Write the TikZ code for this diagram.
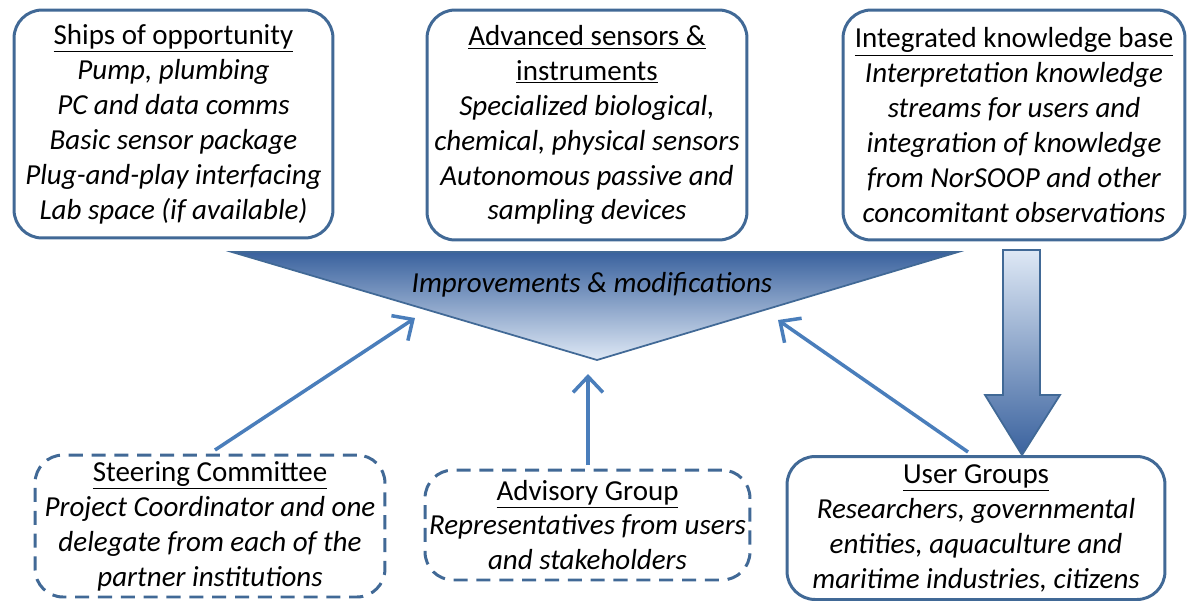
\documentclass[tikz,border=0pt]{standalone}
\usepackage{fontspec}
\setmainfont{Carlito}
\usetikzlibrary{arrows.meta,backgrounds}
\definecolor{boxline}{RGB}{65,105,150}
\definecolor{barfill}{RGB}{79,129,189}
\definecolor{arrowblue}{RGB}{74,126,187}
\definecolor{darkshade}{RGB}{58,98,158}
\definecolor{lightshade}{RGB}{222,232,245}
\tikzset{
  txt/.style={align=center,font=\fontsize{16.5}{19.9}\selectfont\itshape,inner sep=0pt},
  solidbox/.style={draw=boxline,line width=1.7pt,rounded corners=16pt,fill=white,txt},
  dashbox/.style={draw=boxline,line width=1.7pt,rounded corners=16pt,fill=white,dash pattern=on 8pt off 5pt,txt},
  bar/.style={draw=none,line width=22pt,barfill},
  upline/.style={arrowblue,line width=2pt,-{Straight Barb[length=9pt,width=17pt,line width=2pt]}},
  shadeshape/.style={draw=boxline,line width=1pt}
}
\newcommand{\ttl}[1]{\upshape\underline{#1}}
\begin{document}
\begin{tikzpicture}[x=0.02cm,y=-0.02cm]
\useasboundingbox (0,0) rectangle (1189,603);
% top boxes
\node[solidbox,minimum width=6.38cm,minimum height=4.56cm] (ships) at (173.5,124)
 {\ttl{Ships of opportunity}\\Pump, plumbing\\PC and data comms\\Basic sensor package\\Plug-and-play interfacing\\Lab space (if available)};
\node[solidbox,minimum width=6.4cm,minimum height=4.6cm] (adv) at (587,125)
 {\ttl{Advanced sensors \&}\\\ttl{instruments}\\Specialized biological,\\chemical, physical sensors\\Autonomous passive and\\sampling devices};
\node[solidbox,minimum width=6.84cm,minimum height=4.6cm] (ikb) at (1014,125)
 {\ttl{Integrated knowledge base}\\Interpretation knowledge\\streams for users and\\integration of knowledge\\from NorSOOP and other\\concomitant observations};
\begin{scope}[on background layer]
\draw[bar] (ships.east) -- (adv.west);
\draw[bar] (adv.east) -- (ikb.west);
\end{scope}
% triangle
\coordinate (tl) at (232,252);
\coordinate (tr) at (958,252);
\coordinate (apex) at (597,360);
\path[shadeshape,top color=darkshade,bottom color=lightshade] (tl) -- (tr) -- (apex) -- cycle;
\node[txt] (imp) at (592,285) {Improvements \& modifications};
% down arrow
\path[shadeshape,top color=lightshade,bottom color=darkshade]
 (1003,250) -- (1040,250) -- (1040,395) -- (1060,395) -- (1022,455) -- (985,395) -- (1003,395) -- cycle;
% bottom boxes
\node[dashbox,minimum width=7cm,minimum height=2.84cm] (steer) at (210,526)
 {\ttl{Steering Committee}\\Project Coordinator and one\\delegate from each of the\\partner institutions};
\node[dashbox,minimum width=6.5cm,minimum height=2.2cm] (advis) at (587.5,525)
 {\ttl{Advisory Group}\\Representatives from users\\and stakeholders};
\node[solidbox,minimum width=7.56cm,minimum height=2.86cm] (users) at (976,528)
 {\ttl{User Groups}\\Researchers, governmental\\entities, aquaculture and\\maritime industries, citizens};
% arrows
\coordinate (s1) at (215,450);
\coordinate (t1) at (415,318);
\coordinate (s2) at (588,465);
\coordinate (t2) at (588,374);
\coordinate (s3) at (968,452);
\coordinate (t3) at (778,320);
\draw[upline] (s1) -- (t1);
\draw[upline] (s2) -- (t2);
\draw[upline] (s3) -- (t3);
\end{tikzpicture}
\end{document}
